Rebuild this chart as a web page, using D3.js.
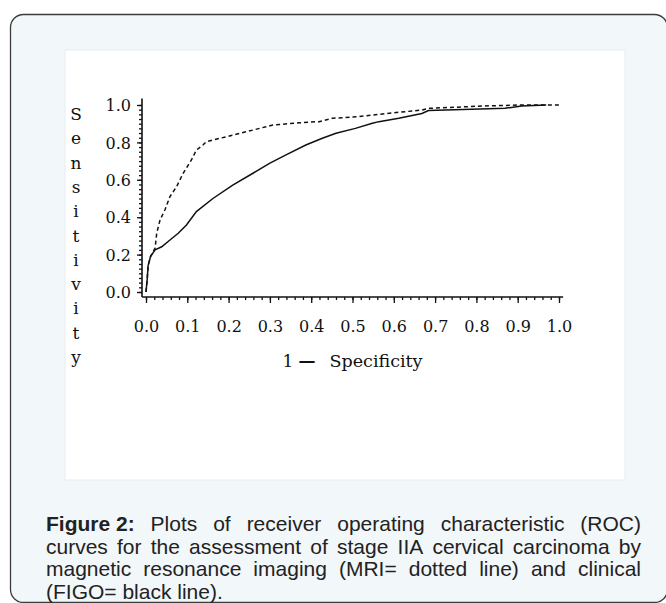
<!DOCTYPE html>
<html>
<head>
<meta charset="utf-8">
<script src="https://cdn.jsdelivr.net/npm/d3@7/dist/d3.min.js"></script>
<style>
  body { margin: 0; background: #fff; }
  svg { display: block; }
</style>
</head>
<body>
<script>
// ROC curves, values
var figoFpr = [0, 0.003, 0.005, 0.011, 0.022, 0.038, 0.058, 0.078, 0.098, 0.122, 0.162, 0.21, 0.259, 0.299, 0.339, 0.387, 0.427, 0.46, 0.507, 0.548, 0.564, 0.612, 0.668, 0.684, 0.788, 0.869, 0.909, 0.969];
var figoTpr = [0, 0.07, 0.14, 0.19, 0.225, 0.242, 0.278, 0.314, 0.358, 0.43, 0.5, 0.572, 0.635, 0.688, 0.733, 0.786, 0.822, 0.849, 0.875, 0.902, 0.911, 0.929, 0.955, 0.97, 0.977, 0.982, 0.995, 1.0];

var mriFpr = [0, 0.003, 0.005, 0.011, 0.022, 0.026, 0.034, 0.046, 0.058, 0.074, 0.09, 0.11, 0.122, 0.138, 0.146, 0.194, 0.243, 0.291, 0.307, 0.371, 0.419, 0.451, 0.516, 0.564, 0.612, 0.668, 0.684, 0.82, 0.909, 1.0];
var mriTpr = [0, 0.07, 0.14, 0.19, 0.235, 0.315, 0.385, 0.44, 0.51, 0.563, 0.635, 0.706, 0.759, 0.786, 0.804, 0.83, 0.857, 0.884, 0.893, 0.905, 0.911, 0.929, 0.938, 0.95, 0.961, 0.973, 0.982, 0.995, 1.0, 1.0];

var xTickValues = [0, 0.1, 0.2, 0.3, 0.4, 0.5, 0.6, 0.7, 0.8, 0.9, 1.0];
var yTickValues = [0, 0.2, 0.4, 0.6, 0.8, 1.0];
var yTitle = 'Sensitivity';
var xTitleParts = ['1', '\u2014', 'Specificity'];
var captionLines = [
	['Figure 2:', 'Plots of receiver operating characteristic (ROC)'],
	['', 'curves for the assessment of stage IIA cervical carcinoma by'],
	['', 'magnetic resonance imaging (MRI= dotted line) and clinical'],
	['', '(FIGO= black line).']
];

var width = 666, height = 603;
var chartFont = '"DejaVu Serif", serif';

var svg = d3.select('body').append('svg')
	.attr('width', width)
	.attr('height', height);

// frame and white panel
svg.append('rect')
	.attr('x', 10.5).attr('y', 14.5)
	.attr('width', 657).attr('height', 588)
	.attr('rx', 13).attr('ry', 13)
	.attr('fill', '#f2f7fa')
	.attr('stroke', '#3c3c3c')
	.attr('stroke-width', 1.3);

svg.append('rect')
	.attr('x', 65).attr('y', 50)
	.attr('width', 560).attr('height', 430)
	.attr('fill', '#fff')
	.attr('stroke', '#e6edf1');

var x = d3.scaleLinear().domain([0, 1]).range([146, 559]);
var y = d3.scaleLinear().domain([0, 1]).range([292, 105]);

var axisX = 142, axisY = 297;

// minor ticks
svg.append('g')
	.attr('transform', 'translate(0,' + axisY + ')')
	.call(d3.axisBottom(x).tickValues(d3.range(0, 51).map(function(i) { return i / 50; }))
		.tickSize(3).tickFormat(''));
svg.append('g')
	.attr('transform', 'translate(' + axisX + ',0)')
	.call(d3.axisLeft(y).tickValues(d3.range(0, 41).map(function(i) { return i / 40; }))
		.tickSize(3).tickFormat(''));

// major ticks
var gx = svg.append('g')
	.attr('transform', 'translate(0,' + axisY + ')')
	.call(d3.axisBottom(x).tickValues(xTickValues).tickSize(6)
		.tickFormat(d3.format('.1f')));
var gy = svg.append('g')
	.attr('transform', 'translate(' + axisX + ',0)')
	.call(d3.axisLeft(y).tickValues(yTickValues).tickSize(5).tickPadding(6)
		.tickFormat(d3.format('.1f')));

svg.selectAll('.domain').remove();
svg.selectAll('.tick line').attr('stroke', '#111').attr('stroke-width', 1.3);
svg.selectAll('.tick text')
	.attr('fill', '#111')
	.style('font-family', chartFont)
	.style('font-size', '16px');
gx.selectAll('.tick text').attr('dy', 0).attr('y', 35);
gy.selectAll('.tick text').attr('dy', '0.36em');

// axis lines
svg.append('line')
	.attr('x1', axisX).attr('x2', axisX)
	.attr('y1', y(1.035)).attr('y2', axisY)
	.attr('stroke', '#111').attr('stroke-width', 1.6);
svg.append('line')
	.attr('x1', axisX).attr('x2', x(1.01))
	.attr('y1', axisY).attr('y2', axisY)
	.attr('stroke', '#111').attr('stroke-width', 1.6);

// x title: "1", a heavy dash, then "Specificity"
var xt = svg.append('g')
	.attr('fill', '#111')
	.style('font-family', chartFont)
	.style('font-size', '17px');
xt.append('text').attr('x', x(0.5) - 70).attr('y', 367).text(xTitleParts[0]);
xt.append('text').attr('x', x(0.5) - 54).attr('y', 367)
	.attr('textLength', 17).attr('lengthAdjust', 'spacingAndGlyphs')
	.style('font-weight', 'bold').text(xTitleParts[1]);
xt.append('text').attr('x', x(0.5) - 23).attr('y', 367)
	.attr('textLength', 93).attr('lengthAdjust', 'spacingAndGlyphs')
	.text(xTitleParts[2]);

svg.selectAll('.ytitle')
	.data(yTitle.split(''))
	.enter().append('text')
	.attr('class', 'ytitle')
	.attr('x', 76)
	.attr('y', function(d, i) { return 120 + i * 24.3; })
	.attr('text-anchor', 'middle')
	.attr('fill', '#111')
	.style('font-family', chartFont)
	.style('font-size', '17px')
	.text(function(d) { return d; });

// curves
var line = d3.line()
	.x(function(d) { return x(d[0]); })
	.y(function(d) { return y(d[1]); });

var figo = d3.zip(figoFpr, figoTpr);
var mri = d3.zip(mriFpr, mriTpr);

svg.append('path')
	.datum(mri)
	.attr('d', line)
	.attr('fill', 'none')
	.attr('stroke', '#111')
	.attr('stroke-width', 1.5)
	.attr('stroke-dasharray', '4,3');

svg.append('path')
	.datum(figo)
	.attr('d', line)
	.attr('fill', 'none')
	.attr('stroke', '#111')
	.attr('stroke-width', 1.5);

// caption, justified by hand (squeezed a bit so line 2 fills the width)
var capLeft = 46, capRight = 641, capTop = 531, capLead = 22.5;
var cap = svg.append('g').attr('class', 'caption')
	.style('font-family', '"Liberation Sans", Arial, sans-serif')
	.style('font-size', '21px')
	.attr('fill', '#222');

var probe = cap.append('text').text(captionLines[1][1]);
var sx = Math.min(1, (capRight - capLeft) / probe.node().getComputedTextLength());
probe.remove();
cap.attr('transform', 'scale(' + sx + ',1)');
var capW = (capRight - capLeft) / sx;
var left0 = capLeft / sx;

captionLines.forEach(function(l, li) {
	var words = [];
	if (l[0]) words.push({ t: l[0], bold: true });
	l[1].split(' ').forEach(function(w) { words.push({ t: w, bold: false }); });
	var texts = words.map(function(w) {
		return cap.append('text')
			.attr('y', capTop + li * capLead)
			.style('font-weight', w.bold ? 'bold' : 'normal')
			.text(w.t);
	});
	var widths = texts.map(function(t) { return t.node().getComputedTextLength(); });
	var total = d3.sum(widths);
	var last = li === captionLines.length - 1;
	var gap = last ? 5.8 : (capW - total) / (words.length - 1);
	var cx = left0;
	texts.forEach(function(t, i) {
		t.attr('x', cx);
		cx += widths[i] + gap;
	});
});
</script>
</body>
</html>
